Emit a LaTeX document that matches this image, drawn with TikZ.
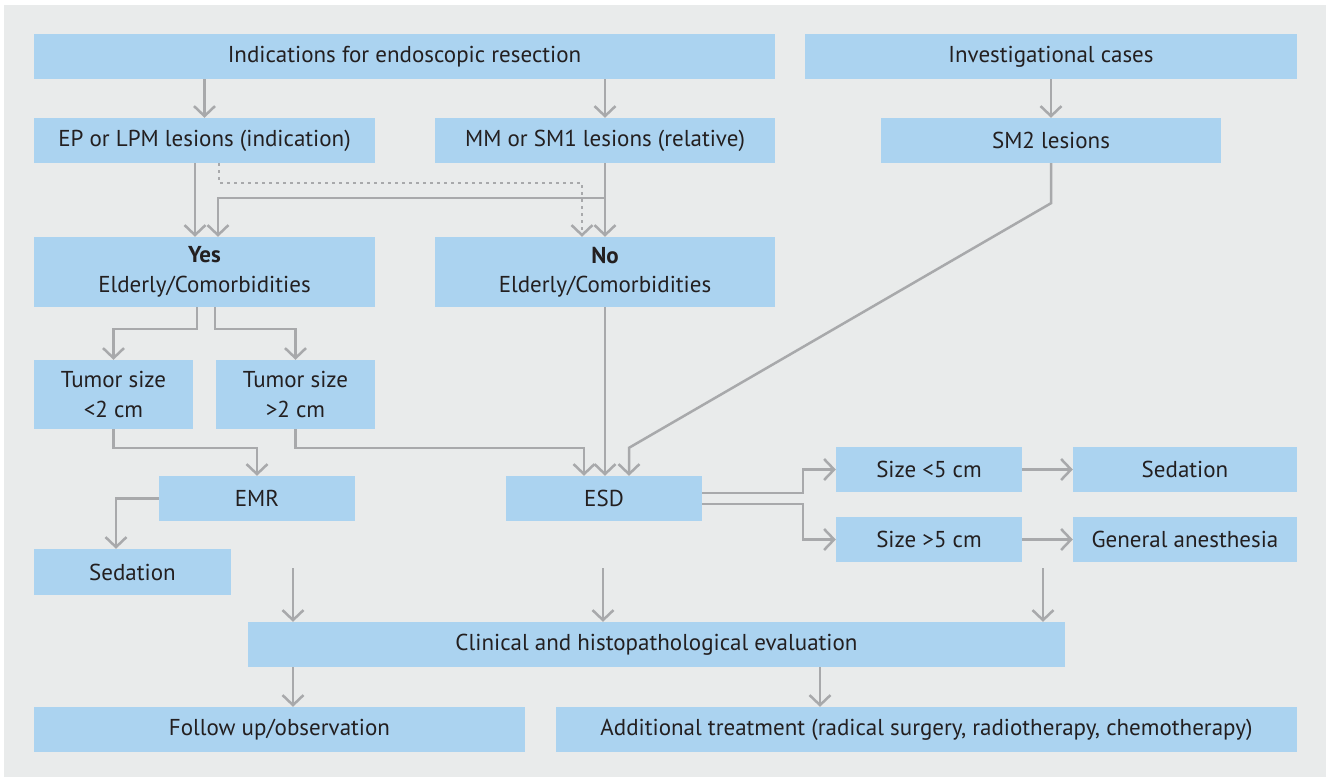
\documentclass[tikz,border=0pt]{standalone}
\usepackage{fontspec}
\setmainfont{PT Sans}
\usepackage{tikz}
\usetikzlibrary{arrows.meta}

\begin{document}
\begin{tikzpicture}
		[x=1pt,y=-1pt,line join=miter,
		%Styles
		box/.style={fill=boxblue,text=textdark,inner sep=0pt,minimum height=45pt,align=center,
			font=\fontsize{23}{29.5}\selectfont},
		link/.style={draw=linkgray,line width=2.5pt},
		arr/.style={link,-{Straight Barb[length=10pt,width=21pt,line width=2.5pt]}},
		maybe/.style={arr,dash pattern=on 3pt off 4pt}
		]
		
		%Colors
		\definecolor{boxblue}{RGB}{171,211,240}
		\definecolor{bggray}{RGB}{233,235,235}
		\definecolor{linkgray}{RGB}{168,169,171}
		\definecolor{textdark}{RGB}{35,31,32}
		
		\useasboundingbox (0,0) rectangle (1330,780);
		\fill[bggray] (4,5) rectangle (1326,777);
		
		%The boxes
		\node[box,minimum width=741pt] (ind) at (404.5,56.5) {Indications for endoscopic resection};
		\node[box,minimum width=492pt] (inv) at (1051,56.5) {Investigational cases};
		\node[box,minimum width=341pt] (ep) at (204.5,140.5) {EP or LPM lesions (indication)};
		\node[box,minimum width=340pt] (mm) at (605,140.5) {MM or SM1 lesions (relative)};
		\node[box,minimum width=340pt] (sm2) at (1051,140.5) {SM2 lesions};
		\node[box,minimum width=341pt,minimum height=70pt] (yes) at (204.5,272) {\textbf{Yes}\\Elderly/Comorbidities};
		\node[box,minimum width=340pt,minimum height=70pt] (no) at (605,272) {\textbf{No}\\Elderly/Comorbidities};
		\node[box,minimum width=159pt,minimum height=69pt] (small) at (113.5,394.5) {Tumor size\\<2 cm};
		\node[box,minimum width=159pt,minimum height=69pt] (large) at (295.5,394.5) {Tumor size\\>2 cm};
		\node[box,minimum width=196pt] (emr) at (257,498.5) {EMR};
		\node[box,minimum width=196pt] (esd) at (604,498.5) {ESD};
		\node[box,minimum width=186pt] (below5) at (929,469.5) {Size <5 cm};
		\node[box,minimum width=186pt] (above5) at (929,539.5) {Size >5 cm};
		\node[box,minimum width=224pt] (sedesd) at (1185,469.5) {Sedation};
		\node[box,minimum width=224pt] (anest) at (1185,539.5) {General anesthesia};
		\node[box,minimum width=197pt,minimum height=46pt] (sedemr) at (132.5,572) {Sedation};
		\node[box,minimum width=817pt] (eval) at (656.5,644.5) {Clinical and histopathological evaluation};
		\node[box,minimum width=491pt] (follow) at (279.5,729.5) {Follow up/observation};
		\node[box,minimum width=741pt] (extra) at (926.5,729.5) {Additional treatment (radical surgery, radiotherapy, chemotherapy)};
		
		%Free ends
		\coordinate (in1) at (293,568);
		\coordinate (in2) at (603,568);
		\coordinate (in3) at (1043,568);
		
		%The arrows
		\draw[arr] (ind.south -| ep.north) -- (ep.north);
		\draw[arr] (ind.south -| mm.north) -- (mm.north);
		\draw[arr] (inv.south -| sm2.north) -- (sm2.north);
		\draw[arr] ([xshift=-9.5pt]ep.south) -- ([xshift=-9.5pt]yes.north);
		\draw[arr] (mm.south) -- ++(0,35) -| ([xshift=13.5pt]yes.north);
		\draw[arr] (mm.south) -- (no.north);
		\draw[maybe] ([xshift=14.5pt]ep.south) -- ++(0,20) -| ([xshift=-23pt]no.north);
		\draw[arr] (sm2.south) -- ++(0,40) -- ([shift={(25,-28)}]esd.north) -- ([xshift=25pt]esd.north);
		\draw[arr] (no.south) -- (no.south |- esd.north);
		\draw[arr] ([xshift=-7.5pt]yes.south) -- ++(0,22) -| (small.north);
		\draw[arr] ([xshift=10.5pt]yes.south) -- ++(0,22) -| (large.north);
		\draw[arr] (small.south) -- ++(0,19) -| (emr.north);
		\draw[arr] (large.south) -- ++(0,19) -| ([xshift=-20pt]esd.north);
		\draw[arr] (emr.west) -| ([xshift=-16.5pt]sedemr.north);
		\draw[arr] ([yshift=5.5pt]esd.east) -- ++(101,0) |- (below5.west);
		\draw[arr] ([yshift=-5.5pt]esd.east) -- ++(101,0) |- (above5.west);
		\draw[arr] (below5.east) -- (sedesd.west);
		\draw[arr] (above5.east) -- (anest.west);
		\draw[arr] (in1) -- (in1 |- eval.north);
		\draw[arr] (in2) -- (in2 |- eval.north);
		\draw[arr] (in3) -- (in3 |- eval.north);
		\draw[arr] ([xshift=-363.5pt]eval.south) -- ([xshift=13.5pt]follow.north);
		\draw[arr] ([xshift=163.5pt]eval.south) -- ([xshift=-106.5pt]extra.north);
	\end{tikzpicture}
\end{document}
